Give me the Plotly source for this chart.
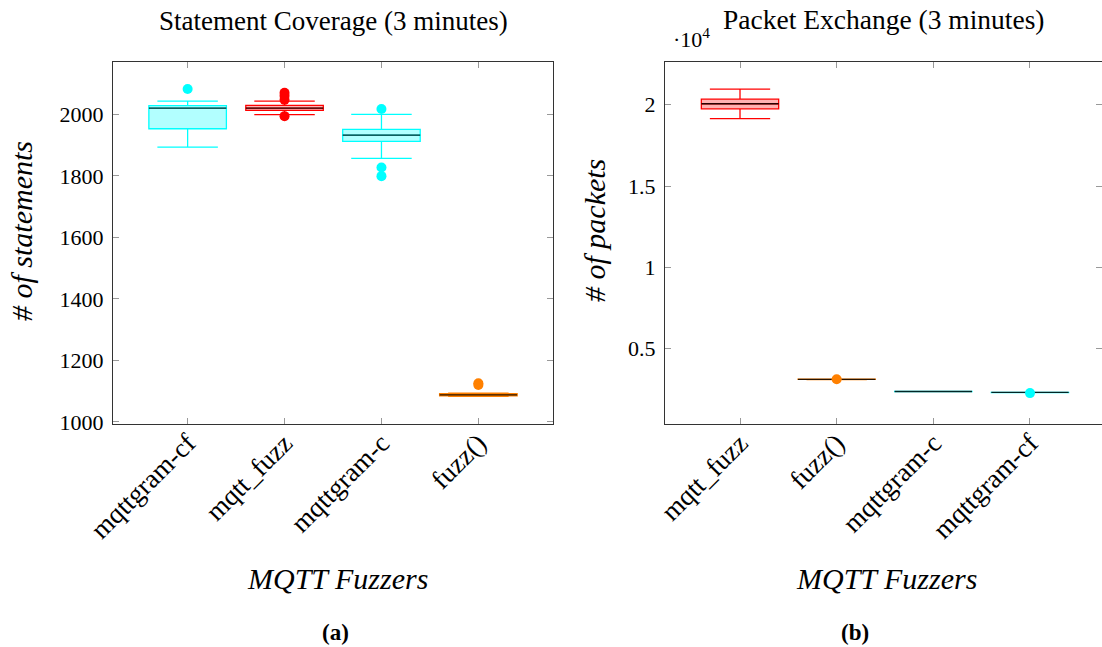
import plotly.graph_objects as go

# ---------------- data ----------------
cov_names = ["mqttgram-cf", "mqtt_fuzz", "mqttgram-c", "fuzz()"]
cov_q1 = [1953, 2013, 1912, 1085]
cov_median = [2020, 2020, 1932, 1088]
cov_q3 = [2028, 2029, 1951, 1092]
cov_low = [1893, 1999, 1857, 1083]
cov_high = [2043, 2043, 2000, 1094]
cov_outliers = [[2082], [2070, 2060, 2047, 1994], [2017, 1827, 1799], [1126, 1120]]
cov_colors = ["#00FFFF", "#FF0000", "#00FFFF", "#FF8000"]

pkt_names = ["mqtt_fuzz", "fuzz()", "mqttgram-c", "mqttgram-cf"]
pkt_q1 = [19750, 3100, 2355, 2295]
pkt_median = [20060, 3110, 2360, 2300]
pkt_q3 = [20340, 3120, 2365, 2305]
pkt_low = [19150, 3095, 2350, 2290]
pkt_high = [20960, 3125, 2370, 2310]
pkt_outliers = [[], [3110], [], [2260]]
pkt_colors = ["#FF0000", "#FF8000", "#00FFFF", "#00FFFF"]

cov_ticks = [1000, 1200, 1400, 1600, 1800, 2000]
pkt_ticks = [5000, 10000, 15000, 20000]
pkt_ticktext = ["0.5", "1", "1.5", "2"]

FONT = "Liberation Serif"


def rgba(hexc, a):
    h = hexc.lstrip("#")
    return "rgba(%d,%d,%d,%s)" % (int(h[0:2], 16), int(h[2:4], 16), int(h[4:6], 16), a)


fig = go.Figure()


def add_panel(names, q1, med, q3, lo, hi, outs, colors, xa, ya):
    for i, n in enumerate(names):
        pos = i + 1
        c = colors[i]
        fig.add_trace(go.Box(
            x=[pos], q1=[q1[i]], median=[med[i]], q3=[q3[i]],
            lowerfence=[lo[i]], upperfence=[hi[i]],
            width=0.8, whiskerwidth=0.78,
            line=dict(color=c, width=1.3), fillcolor=rgba(c, 0.3),
            xaxis=xa, yaxis=ya, showlegend=False, hoverinfo="skip",
        ))
        fig.add_trace(go.Scatter(
            x=[pos - 0.4, pos + 0.4], y=[med[i], med[i]], mode="lines",
            line=dict(color="rgba(0,0,0,0.85)", width=1.3),
            xaxis=xa, yaxis=ya, showlegend=False, hoverinfo="skip",
        ))
        if outs[i]:
            fig.add_trace(go.Scatter(
                x=[pos] * len(outs[i]), y=outs[i], mode="markers",
                marker=dict(color=c, size=10, line=dict(width=0)),
                xaxis=xa, yaxis=ya, showlegend=False, hoverinfo="skip",
            ))


add_panel(cov_names, cov_q1, cov_median, cov_q3, cov_low, cov_high, cov_outliers, cov_colors, "x", "y")
add_panel(pkt_names, pkt_q1, pkt_median, pkt_q3, pkt_low, pkt_high, pkt_outliers, pkt_colors, "x2", "y2")

W, H = 1102, 647
ydom = [1 - 423.5 / H, 1 - 62 / H]

axis_common = dict(
    showline=True, linecolor="#333", linewidth=1, mirror="ticks",
    ticks="inside", ticklen=6, tickcolor="#999", tickwidth=1,
    showgrid=False, zeroline=False, automargin=False,
)
ytick = dict(family=FONT, size=22, color="black")
xtick = dict(family=FONT, size=27, color="black")

fig.update_layout(
    template="none",
    width=W, height=H, autosize=False,
    margin=dict(l=0, r=0, t=0, b=0, pad=0),
    paper_bgcolor="white", plot_bgcolor="white",
    font=dict(family=FONT, color="black"),
    xaxis=dict(domain=[113 / W, 553 / W], range=[0.23, 4.77],
               tickvals=[1, 2, 3, 4], ticktext=cov_names, tickangle=-45,
               tickfont=xtick, ticklabelstandoff=-8, anchor="y", **axis_common),
    yaxis=dict(domain=ydom, range=[995, 2170], tickvals=cov_ticks,
               tickfont=ytick, ticklabelstandoff=4, anchor="x", **axis_common),
    xaxis2=dict(domain=[665 / W, 1.0], range=[0.224, 4.745],
                tickvals=[1, 2, 3, 4], ticktext=pkt_names, tickangle=-45,
                tickfont=xtick, ticklabelstandoff=-8, anchor="y2", **axis_common),
    yaxis2=dict(domain=ydom, range=[390, 22630], tickvals=pkt_ticks,
                ticktext=pkt_ticktext, tickfont=ytick, ticklabelstandoff=4,
                anchor="x2", **axis_common),
)

ann = []
ann.append(dict(text="Statement Coverage (3 minutes)", x=333 / W, y=1 - 21 / H,
                font=dict(family=FONT, size=27)))
ann.append(dict(text="Packet Exchange (3 minutes)", x=884 / W, y=1 - 19 / H,
                font=dict(family=FONT, size=27.5)))
ann.append(dict(text="·10<sup>4</sup>", x=692 / W, y=1 - 38 / H,
                font=dict(family=FONT, size=22)))
ann.append(dict(text="<i># of statements</i>", x=21 / W, y=1 - 231 / H, textangle=-90,
                font=dict(family=FONT, size=30)))
ann.append(dict(text="<i># of packets</i>", x=594 / W, y=1 - 231 / H, textangle=-90,
                font=dict(family=FONT, size=30)))
ann.append(dict(text="<i>MQTT Fuzzers</i>", x=337 / W, y=1 - 578 / H,
                font=dict(family=FONT, size=30)))
ann.append(dict(text="<i>MQTT Fuzzers</i>", x=886 / W, y=1 - 578 / H,
                font=dict(family=FONT, size=30)))
ann.append(dict(text="<b>(a)</b>", x=335 / W, y=1 - 632 / H,
                font=dict(family=FONT, size=23)))
ann.append(dict(text="<b>(b)</b>", x=855 / W, y=1 - 632 / H,
                font=dict(family=FONT, size=23)))
for a in ann:
    a.update(xref="paper", yref="paper", showarrow=False, xanchor="center", yanchor="middle")
fig.update_layout(annotations=ann)

fig.write_html("out.html", config={"displayModeBar": False},
               post_script="document.body.style.margin='0';document.body.style.padding='0';"
                           "document.body.style.overflow='hidden';")
